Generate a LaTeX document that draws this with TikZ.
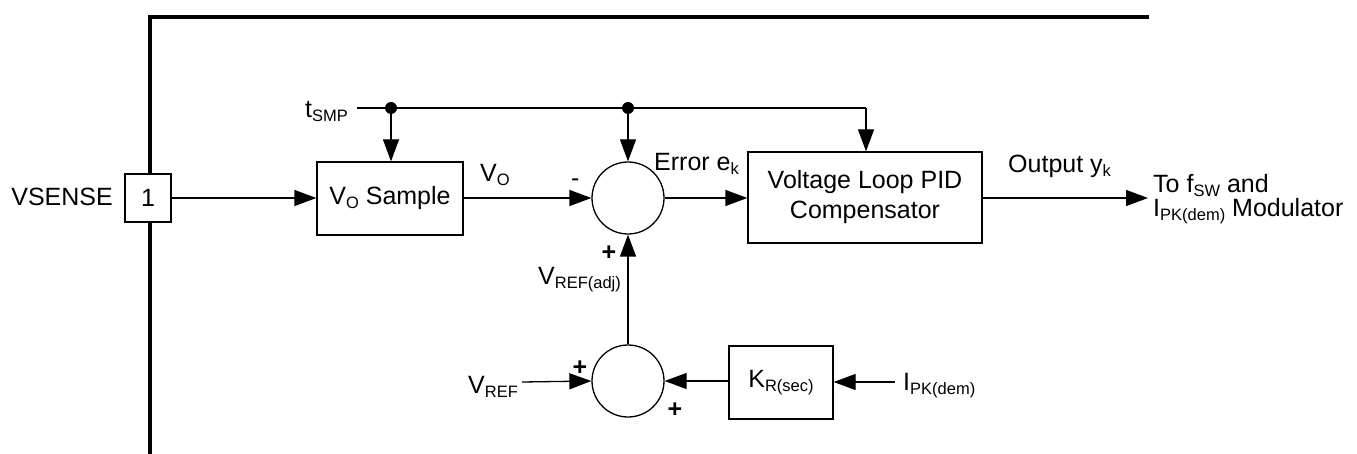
\documentclass[tikz,border=0pt]{standalone}
\usepackage{fontspec}
\setmainfont{Liberation Sans}
\usetikzlibrary{arrows.meta}
\newcommand{\sbs}[1]{\raisebox{-4pt}{\fontsize{16.5}{16.5}\selectfont #1}}
\begin{document}
\begin{tikzpicture}[x=1pt,y=-1pt, font=\fontsize{25}{30}\selectfont,
  line/.style={line width=1.3pt},
  arr/.style={line width=1.3pt, -{Triangle[length=22pt,width=16pt]}},
  blk/.style={draw, line width=1.3pt, inner sep=0pt, align=center},
  sumj/.style={draw, circle, line width=1.3pt, minimum size=72pt, inner sep=0pt},
  dot/.style={circle, fill, inner sep=0pt, minimum size=12pt},
  lbl/.style={inner sep=0pt, anchor=base west},
  sgn/.style={inner sep=0pt, anchor=base, font=\fontsize{25}{30}\selectfont\bfseries}]
\useasboundingbox (0,0) rectangle (1357,454);
% frame
\draw[line width=3.4pt] (150,454) -- (150,17) -- (1149,17);
% blocks
\node[blk, fill=white, minimum width=46pt, minimum height=48pt] (pin) at (148,198) {1};
\node[inner sep=0pt, anchor=base east] (vsense) at (113,206) {VSENSE};
\node[blk, minimum width=146pt, minimum height=73pt] (vs) at (390,198.5) {V\sbs{O} Sample};
\node[sumj] (sum1) at (628,198) {};
\node[sumj] (sum2) at (628,381) {};
\node[blk, minimum width=234pt, minimum height=91pt] (pid) at (865,197.5) {Voltage Loop PID\\Compensator};
\node[blk, minimum width=104pt, minimum height=73pt] (kr) at (781,382.5) {K\sbs{R(sec)}};
% junctions and ends
\coordinate (tsmp) at (357,108);
\node[dot] (d1) at (391,108) {};
\node[dot] (d2) at (628,108) {};
\coordinate (corner) at (866,108);
\coordinate (out) at (1148,198);
\coordinate (vref) at (522,382);
\coordinate (ipk) at (895,382);
% connectors
\draw[line] (tsmp) -- (d1.center) -- (d2.center) -- (corner);
\draw[arr] (corner) -- (corner |- pid.north);
\draw[arr] (d1.center) -- (d1 |- vs.north);
\draw[arr] (d2.center) -- (sum1.north);
\draw[arr] (pin.east) -- (pin.east -| vs.west);
\draw[arr] (vs.east |- sum1.west) -- (sum1.west);
\draw[arr] (sum1.east) -- (sum1.east -| pid.west);
\draw[arr] (pid.east |- out) -- (out);
\draw[arr] (sum2.north) -- (sum1.south);
\draw[arr] (vref) -- (sum2.west);
\draw[arr] (kr.west |- sum2.east) -- (sum2.east);
\draw[arr] (ipk) -- (ipk -| kr.east);
% labels
\node[lbl] (ltsmp) at (305,118) {t\sbs{SMP}};
\node[lbl] (lvo) at (480,182) {V\sbs{O}};
\node[lbl] (lminus) at (571,187) {-};
\node[lbl] (lerr) at (654,171) {Error e\sbs{k}};
\node[sgn] (lplus1) at (609,261) {+};
\node[lbl] (lvadj) at (538,285) {V\sbs{REF(adj)}};
\node[lbl] (lout) at (1008,173) {Output y\sbs{k}};
\node[lbl] (lto1) at (1153,193) {To f\sbs{SW} and};
\node[lbl] (lto2) at (1153,217) {I\sbs{PK(dem)} Modulator};
\node[lbl] (lvref) at (468,393) {V\sbs{REF}};
\node[lbl] (lipk) at (903,390) {I\sbs{PK(dem)}};
\node[sgn] (lplus2) at (580,375) {+};
\node[sgn] (lplus3) at (675,417) {+};
\end{tikzpicture}
\end{document}
